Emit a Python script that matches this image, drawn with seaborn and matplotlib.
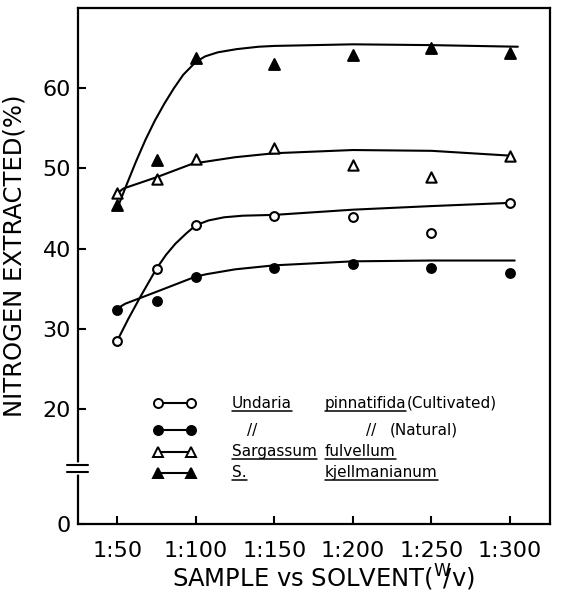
import numpy as np
import pandas as pd
import matplotlib
matplotlib.use("Agg")
import matplotlib.pyplot as plt
import matplotlib.transforms as mtransforms
import seaborn as sns

# ---- 1) Values ----
ratio = [50, 75, 100, 150, 200, 250, 300]
tick_pos = [50, 100, 150, 200, 250, 300]
tick_labels = ["1:50", "1:100", "1:150", "1:200", "1:250", "1:300"]

undaria_cult = [28.5, 37.5, 42.9, 44.1, 43.9, 42.0, 45.7]
undaria_nat = [32.3, 33.5, 36.4, 37.6, 38.1, 37.6, 37.0]
sarg_fulv = [46.9, 48.7, 51.2, 52.5, 50.4, 48.9, 51.6]
sarg_kjell = [45.4, 51.0, 63.8, 63.1, 64.2, 65.0, 64.4]

# hand-drawn trend curves, traced point by point
cult_curve_x = [50, 57, 64.5, 75, 81, 87, 94, 100, 108, 118, 130, 150, 200, 250, 300]
cult_curve_y = [28.5, 31.2, 33.9, 37.5, 39.2, 40.6, 41.9, 42.9, 43.5, 43.9, 44.1, 44.2,
                44.85, 45.3, 45.7]
nat_curve_x = [50, 55, 75, 100, 107, 125, 150, 200, 250, 303]
nat_curve_y = [32.5, 33.1, 34.6, 36.5, 36.8, 37.4, 37.9, 38.4, 38.5, 38.5]
fulv_curve_x = [50, 54, 75, 98, 125, 150, 200, 250, 300]
fulv_curve_y = [46.9, 47.5, 48.9, 50.6, 51.4, 51.9, 52.3, 52.2, 51.6]
kjell_curve_x = [50, 56, 62, 68, 74, 80, 86, 92, 100, 106, 114, 126, 140, 150, 200, 250, 305]
kjell_curve_y = [45.0, 48.0, 50.9, 53.6, 56.0, 58.1, 60.0, 61.7, 63.3, 64.0, 64.5, 64.9,
                 65.2, 65.3, 65.5, 65.4, 65.2]

y_ticks = [5.6, 20, 30, 40, 50, 60]   # bottom tick sits below the axis break
y_tick_labels = ["0", "20", "30", "40", "50", "60"]

# ---- 2) Figure ----
sns.set_style("ticks")
plt.rcParams["font.family"] = ["DejaVu Sans"]
plt.rcParams["mathtext.default"] = "regular"
plt.rcParams["text.color"] = "black"
plt.rcParams["axes.labelcolor"] = "black"

fig = plt.figure(figsize=(5.62, 5.92), dpi=100)
ax = fig.add_axes([0.1388, 0.1149, 0.8399, 0.8711])

series = [
    (undaria_cult, cult_curve_x, cult_curve_y, "o", "white", 40),
    (undaria_nat, nat_curve_x, nat_curve_y, "o", "black", 40),
    (sarg_fulv, fulv_curve_x, fulv_curve_y, "^", "white", 55),
    (sarg_kjell, kjell_curve_x, kjell_curve_y, "^", "black", 60),
]

for vals, cx, cy, mk, fc, sz in series:
    sns.lineplot(x=cx, y=cy, color="black", lw=1.5, ax=ax, zorder=2)
    sns.scatterplot(x=ratio, y=vals, marker=mk, s=sz, color=fc,
                    edgecolor="black", linewidth=1.5, ax=ax, zorder=3)

ax.set_xlim(25, 325.5)
ax.set_ylim(5.6, 70)
ax.set_xticks(tick_pos)
ax.set_xticklabels(tick_labels)
ax.set_yticks(y_ticks)
ax.set_yticklabels(y_tick_labels)
ax.tick_params(direction="in", length=6, width=1.5, labelsize=16, colors="black")
ax.tick_params(axis="x", pad=12)
ax.tick_params(axis="y", pad=5)
for sp in ax.spines.values():
    sp.set_linewidth(1.6)
    sp.set_color("black")

ax.set_ylabel("NITROGEN EXTRACTED(%)", fontsize=17.5)
ax.yaxis.set_label_coords(-0.11, 0.521)
ax.set_xlabel(r"SAMPLE vs SOLVENT($^{W}\!\!/v$)", fontsize=17.5)
ax.xaxis.set_label_coords(0.519, -0.104)
ax.xaxis.label.set_va("center")

# axis break on the left spine
blend = mtransforms.blended_transform_factory(ax.transAxes, ax.transData)
ax.plot([0, 0], [12.1, 13.0], color="white", lw=4, transform=blend, clip_on=False, zorder=5)
for yb in [12.1, 13.0]:
    ax.plot([-0.023, 0.021], [yb, yb], color="black", lw=1.5, transform=blend,
            clip_on=False, zorder=6)

# ---- 3) Hand-made key ----
rows_y = [0.234, 0.182, 0.140, 0.099]
key_marks = [("o", "white", 6.5), ("o", "black", 6.5), ("^", "white", 7), ("^", "black", 7.5)]
for ry, (mk, fc, ms) in zip(rows_y, key_marks):
    ax.plot([0.170, 0.240], [ry, ry], color="black", lw=1.5, marker=mk, ms=ms,
            mfc=fc, mec="black", mew=1.4, transform=ax.transAxes, clip_on=False)

key_text = [
    (0.326, rows_y[0], "Undaria", True),
    (0.523, rows_y[0], "pinnatifida", True),
    (0.357, rows_y[1], "//", False),
    (0.611, rows_y[1], "//", False),
    (0.661, rows_y[1], "(Natural)", False),
    (0.326, rows_y[2], "Sargassum", True),
    (0.523, rows_y[2], "fulvellum", True),
    (0.326, rows_y[3], "S.", True),
    (0.523, rows_y[3], "kjellmanianum", True),
]
texts = []
for tx, ty, s, ul in key_text:
    t = ax.text(tx, ty, s, transform=ax.transAxes, fontsize=11, va="center", ha="left")
    texts.append((t, ul))

fig.canvas.draw()
renderer = fig.canvas.get_renderer()
inv = ax.transAxes.inverted()
for t, ul in texts:
    bb = t.get_window_extent(renderer)
    if t.get_text() == "pinnatifida":
        ax.text(inv.transform((bb.x1, 0))[0], t.get_position()[1], "(Cultivated)",
                transform=ax.transAxes, fontsize=11, va="center", ha="left")
    if ul:
        (x0, y0), (x1, _) = inv.transform([(bb.x0, bb.y0), (bb.x1, bb.y0)])
        ax.plot([x0, x1], [y0, y0], color="black", lw=1.1, transform=ax.transAxes)

plt.savefig("out.png", dpi=100)
plt.close()
